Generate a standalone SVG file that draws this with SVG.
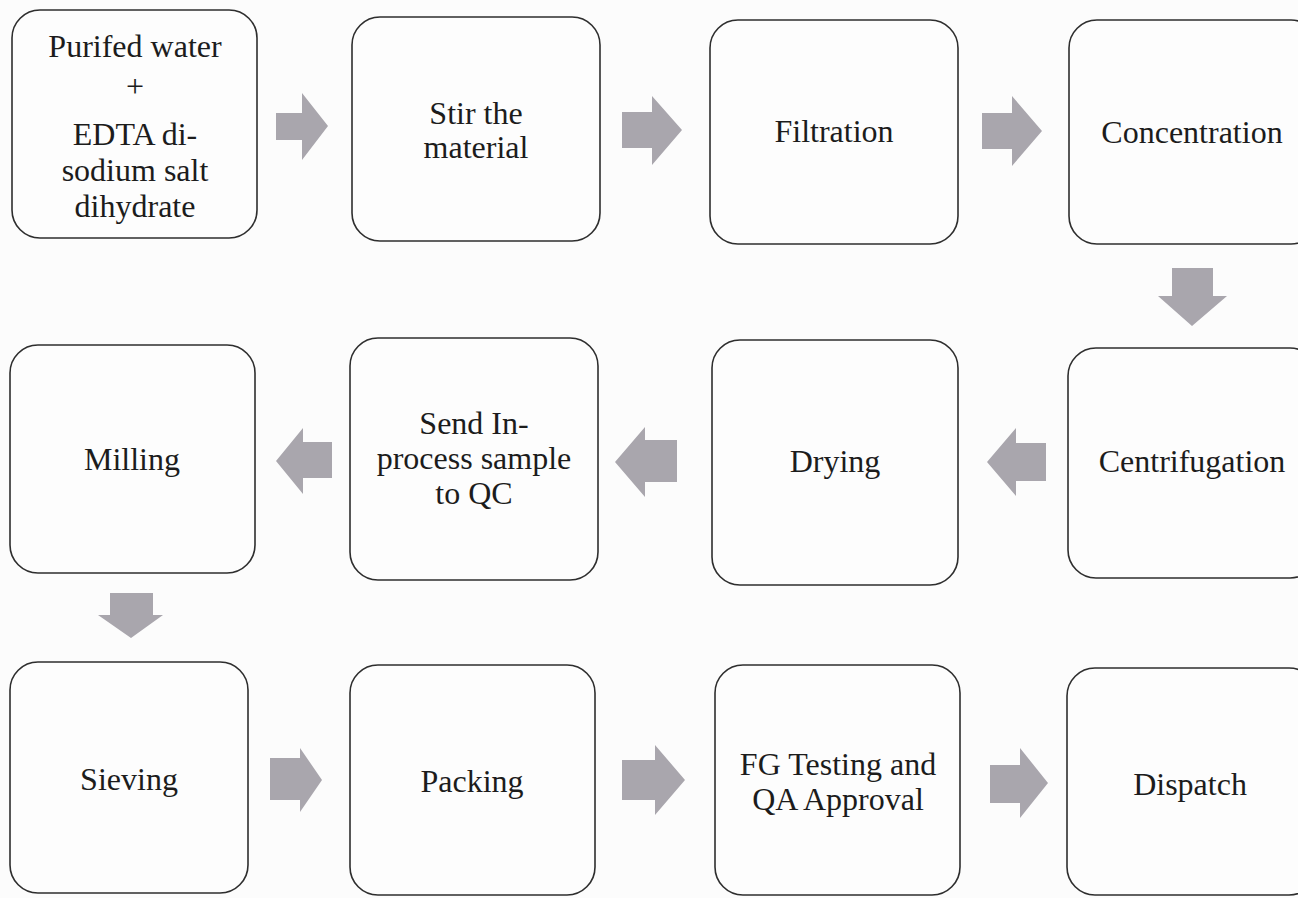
<svg xmlns="http://www.w3.org/2000/svg" width="1298" height="898" viewBox="0 0 1298 898">
<style>
.box{fill:#fdfdfd;stroke:#2e2e2e;stroke-width:1.6}
.t{font-family:"Liberation Serif","Times New Roman",serif;font-size:32px;fill:#1c1c1c;text-anchor:middle}
.arr{fill:#a9a6ad}
</style>
<rect x="0" y="0" width="1298" height="898" fill="#fcfcfc"/>
<g id="connectors">
<path class="arr" d="M276,113 H302 V93 L328,126 L302,160 V140 H276 Z"/>
<path class="arr" d="M622,112 H652 V96 L682,130 L652,165 V148 H622 Z"/>
<path class="arr" d="M982,113 H1012 V96 L1042,131 L1012,166 V149 H982 Z"/>
<path class="arr" d="M1172,268 H1213 V296 H1227 L1192,326 L1158,296 H1172 Z"/>
<path class="arr" d="M1046,443 H1016 V428 L987,462 L1016,496 V481 H1046 Z"/>
<path class="arr" d="M677,440 H645 V427 L615,462 L645,497 V482 H677 Z"/>
<path class="arr" d="M332,442 H303 V428 L276,461 L303,494 V478 H332 Z"/>
<path class="arr" d="M110,593 H153 V615 H163 L131,638 L98,615 H110 Z"/>
<path class="arr" d="M270,758 H300 V748 L322,780 L300,812 V800 H270 Z"/>
<path class="arr" d="M622,760 H655 V745 L685,780 L655,815 V800 H622 Z"/>
<path class="arr" d="M990,765 H1020 V748 L1048,783 L1020,818 V803 H990 Z"/>
</g>
<g id="n1"><rect class="box" x="12" y="10" width="245" height="228" rx="28"/>
<text class="t" x="135" y="57">Purifed water</text>
<text class="t" x="135" y="97">+</text>
<text class="t" x="135" y="145">EDTA di-</text>
<text class="t" x="135" y="181">sodium salt</text>
<text class="t" x="135" y="217">dihydrate</text></g>
<g id="n2"><rect class="box" x="352" y="17" width="248" height="224" rx="28"/>
<text class="t" x="476" y="124">Stir the</text>
<text class="t" x="476" y="158">material</text></g>
<g id="n3"><rect class="box" x="710" y="20" width="248" height="224" rx="28"/>
<text class="t" x="834" y="142">Filtration</text></g>
<g id="n4"><rect class="box" x="1069" y="20" width="250" height="224" rx="28"/>
<text class="t" x="1192" y="143">Concentration</text></g>
<g id="n5"><rect class="box" x="1068" y="348" width="250" height="230" rx="28"/>
<text class="t" x="1192" y="472">Centrifugation</text></g>
<g id="n6"><rect class="box" x="712" y="340" width="246" height="245" rx="28"/>
<text class="t" x="835" y="472">Drying</text></g>
<g id="n7"><rect class="box" x="350" y="338" width="248" height="242" rx="28"/>
<text class="t" x="474" y="434">Send In-</text>
<text class="t" x="474" y="469">process sample</text>
<text class="t" x="474" y="504">to QC</text></g>
<g id="n8"><rect class="box" x="10" y="345" width="245" height="228" rx="28"/>
<text class="t" x="132" y="470">Milling</text></g>
<g id="n9"><rect class="box" x="10" y="662" width="238" height="231" rx="28"/>
<text class="t" x="129" y="790">Sieving</text></g>
<g id="n10"><rect class="box" x="350" y="665" width="245" height="230" rx="28"/>
<text class="t" x="472" y="792">Packing</text></g>
<g id="n11"><rect class="box" x="715" y="665" width="245" height="230" rx="28"/>
<text class="t" x="838" y="775">FG Testing and</text>
<text class="t" x="838" y="810">QA Approval</text></g>
<g id="n12"><rect class="box" x="1067" y="668" width="250" height="227" rx="28"/>
<text class="t" x="1190" y="795">Dispatch</text></g>
</svg>
